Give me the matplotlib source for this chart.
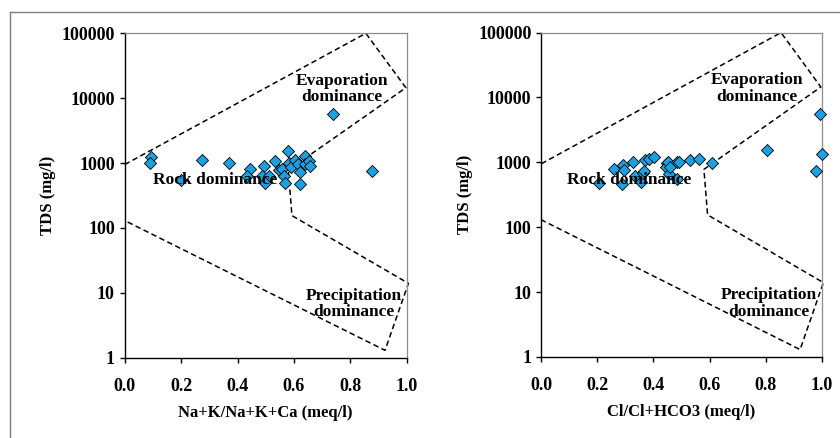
import matplotlib
matplotlib.use("Agg")
import matplotlib.pyplot as plt
from matplotlib.lines import Line2D

plt.rcParams['font.family'] = ['Liberation Serif', 'DejaVu Serif']

# Gibbs diagram envelope (x ratio, TDS mg/l)
boundary_x = [0.0, 0.855, 0.997, 0.58, 0.593, 1.006, 0.923, 0.0]
boundary_tds = [950, 100000, 14500, 780, 155, 14, 1.3, 130]

# Na+K/(Na+K+Ca) vs TDS
cation_ratio = [0.092, 0.089, 0.20, 0.275, 0.368, 0.443, 0.434, 0.494, 0.485,
                0.51, 0.498, 0.532, 0.548, 0.556, 0.564, 0.569, 0.579, 0.582,
                0.589, 0.605, 0.613, 0.62, 0.62, 0.638, 0.641, 0.655, 0.656,
                0.739, 0.877]
cation_tds = [1220, 990, 547, 1100, 1000, 800, 637, 908, 637,
              630, 500, 1060, 780, 815, 630, 487, 1550, 990,
              880, 1110, 965, 735, 474, 1280, 965, 1085, 898,
              5680, 752]

# Cl/(Cl+HCO3) vs TDS
anion_ratio = [0.205, 0.26, 0.29, 0.296, 0.289, 0.328, 0.334, 0.357, 0.361,
               0.366, 0.37, 0.385, 0.402, 0.447, 0.445, 0.453, 0.457, 0.46,
               0.483, 0.492, 0.483, 0.532, 0.564, 0.609, 0.805, 0.993, 1.0,
               0.98]
anion_tds = [484, 796, 907, 769, 462, 1021, 621, 490, 683,
             724, 1097, 1122, 1205, 975, 845, 1000, 667, 860,
             1000, 1030, 558, 1084, 1122, 980, 1550, 5630, 1327,
             745]

x_ticks = [0.0, 0.2, 0.4, 0.6, 0.8, 1.0]
x_tick_labels = ["0.0", "0.2", "0.4", "0.6", "0.8", "1.0"]
y_ticks = [1, 10, 100, 1000, 10000, 100000]
y_tick_labels = ["1", "10", "100", "1000", "10000", "100000"]

panels = [
    dict(rect=[0.1485, 0.1833, 0.3357, 0.7406], x=cation_ratio, y=cation_tds,
         xlabel="Na+K/Na+K+Ca (meq/l)", evap_x=0.77, rock_x=0.32, prec_x=0.813),
    dict(rect=[0.6444, 0.1850, 0.3338, 0.7406], x=anion_ratio, y=anion_tds,
         xlabel="Cl/Cl+HCO3 (meq/l)", evap_x=0.768, rock_x=0.315, prec_x=0.81),
]

fig = plt.figure(figsize=(8.4, 4.38), dpi=100)

# outer chart frame
frame_color = "#7f7f7f"
fig.add_artist(Line2D([10 / 840, 1.0], [1 - 12 / 438, 1 - 12 / 438],
                      transform=fig.transFigure, color=frame_color, lw=1.0))
fig.add_artist(Line2D([10 / 840, 10 / 840], [0.0, 1 - 12 / 438],
                      transform=fig.transFigure, color=frame_color, lw=1.0))

for p in panels:
    ax = fig.add_axes(p["rect"])
    ax.set_yscale("log")
    ax.set_xlim(0, 1)
    ax.set_ylim(1, 100000)

    ax.plot(boundary_x, boundary_tds, ls=(0, (3.6, 2.2)), color="black",
            lw=1.1, clip_on=False, zorder=2)
    ax.scatter(p["x"], p["y"], marker="D", s=38, facecolor="#1ba1e2",
               edgecolor="black", linewidths=0.6, zorder=3, clip_on=False)

    ax.set_xticks(x_ticks)
    ax.set_xticklabels(x_tick_labels, fontsize=13, fontweight="bold")
    ax.set_yticks(y_ticks)
    ax.set_yticklabels(y_tick_labels, fontsize=13, fontweight="bold")
    ax.minorticks_off()
    ax.tick_params(axis="both", direction="out", length=3.6, width=1,
                   colors="black")
    ax.tick_params(axis="y", pad=3.5)
    ax.tick_params(axis="x", pad=11)

    for side in ("top", "right"):
        ax.spines[side].set_color("#8c8c8c")
        ax.spines[side].set_linewidth(0.9)
    for side in ("left", "bottom"):
        ax.spines[side].set_color("black")
        ax.spines[side].set_linewidth(1.0)

    ax.set_xlabel(p["xlabel"], fontsize=12, fontweight="bold", labelpad=7)
    ax.set_ylabel("TDS (mg/l)", fontsize=12, fontweight="bold", labelpad=4)

    ax.text(p["evap_x"], 13800, "Evaporation\ndominance", ha="center",
            va="center", fontsize=12.5, fontweight="bold", linespacing=1.05,
            zorder=4)
    ax.text(p["rock_x"], 540, "Rock dominance", ha="center", va="center",
            fontsize=12.5, fontweight="bold", zorder=4)
    ax.text(p["prec_x"], 6.7, "Precipitation\ndominance", ha="center",
            va="center", fontsize=12.5, fontweight="bold", linespacing=1.05,
            zorder=4)

fig.savefig("out.png", dpi=100)
